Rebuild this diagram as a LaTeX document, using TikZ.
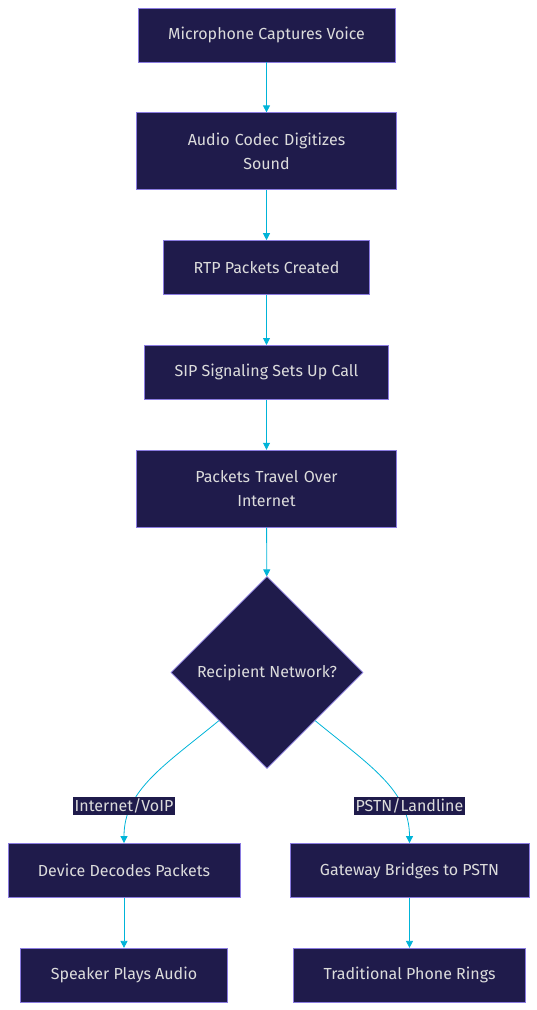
\documentclass[tikz,border=0pt]{standalone}
\usepackage{fontspec}
\setmainfont{Fira Sans}
\usetikzlibrary{positioning}
\usetikzlibrary{shapes.geometric}
\usetikzlibrary{arrows.meta}
\definecolor{boxfill}{HTML}{1F1B4B}
\definecolor{boxline}{HTML}{8A7BE0}
\definecolor{flowline}{HTML}{00B4D8}
\definecolor{boxtext}{HTML}{DCDCDC}
\begin{document}
\begin{tikzpicture}[x=1pt,y=-1pt,node distance=50pt,
    font=\fontsize{16}{24}\selectfont,
    stepbox/.style={draw=boxline,fill=boxfill,text=boxtext,line width=0.8pt,
      inner xsep=30pt,minimum height=54pt,align=center},
    widebox/.style={stepbox,text width=200pt,minimum height=77pt},
    choice/.style={diamond,draw=boxline,fill=boxfill,text=boxtext,line width=0.6pt,
      minimum size=192pt,inner sep=0pt},
    tag/.style={fill=boxfill,text=boxtext,inner sep=1.5pt},
    flow/.style={color=flowline,line width=0.8pt,-{Triangle[length=7pt,width=7pt]}}]
\useasboundingbox (0,0) rectangle (537,1010);
\node[stepbox] (mic) at (266.5,35) {Microphone Captures Voice};
\node[widebox,below=of mic] (codec) {Audio Codec Digitizes\\Sound};
\node[stepbox,below=of codec] (rtp) {RTP Packets Created};
\node[stepbox,below=of rtp] (sip) {SIP Signaling Sets Up Call};
\node[widebox,below=of sip] (travel) {Packets Travel Over\\Internet};
\node[choice] (net) at (267,672.5) {Recipient Network?};
\node[stepbox] (decode) at (124,870.5) {Device Decodes Packets};
\node[stepbox] (gate) at (409.5,870.5) {Gateway Bridges to PSTN};
\node[stepbox,below=of decode] (speaker) {Speaker Plays Audio};
\node[stepbox,below=of gate] (rings) {Traditional Phone Rings};
\path[flow]
  (mic) edge (codec)
  (codec) edge (rtp)
  (rtp) edge (sip)
  (sip) edge (travel)
  (travel) edge (net)
  (decode) edge (speaker)
  (gate) edge (rings);
\draw[flow] (net.south west) .. controls (165,765) and (124,790) .. (decode.north);
\draw[flow] (net.south east) .. controls (369,765) and (409.5,790) .. (gate.north);
\node[tag] (voip) at (124,806) {Internet/VoIP};
\node[tag] (pstn) at (409.5,806) {PSTN/Landline};
\end{tikzpicture}
\end{document}
